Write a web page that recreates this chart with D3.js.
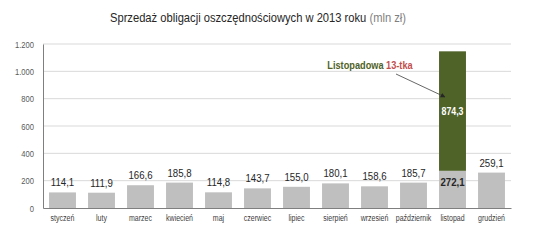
<!DOCTYPE html>
<html><head><meta charset="utf-8">
<script src="https://cdn.jsdelivr.net/npm/d3@7"></script>
<style>body{margin:0;background:#fff;} svg{display:block;font-family:"Liberation Sans",Arial,sans-serif;}</style>
</head><body>
<svg id="c" width="540" height="241"></svg>
<script>
const categories = ["styczeń","luty","marzec","kwiecień","maj","czerwiec","lipiec","sierpień","wrzesień","październik","listopad","grudzień"];
const baseValues = [114.1,111.9,166.6,185.8,114.8,143.7,155.0,180.1,158.6,185.7,272.1,259.1];
const extraValues = [0,0,0,0,0,0,0,0,0,0,874.3,0];
const yTicks = [0,200,400,600,800,1000,1200];

const svg = d3.select("#c");
const m = {l:43, r:29, t:44, b:33};
const W = 540, H = 241;
const x = d3.scaleBand().domain(categories).range([m.l, W - m.r]).paddingInner(0.31).paddingOuter(0.155);
const y = d3.scaleLinear().domain([0,1200]).range([H - m.b, m.t]);
const fmt = v => v.toFixed(1).replace(".", ",");
const fmtTick = v => v >= 1000 ? d3.format(",")(v).replace(",", ".") : String(v);
const SX = 0.84; // narrow-font emulation

// gridlines
svg.append("g").selectAll("line").data(yTicks.slice(1)).join("line")
  .attr("x1", m.l).attr("x2", W - m.r)
  .attr("y1", d => y(d)).attr("y2", d => y(d))
  .attr("stroke", "#d9d9d9").attr("stroke-width", 1);

// y axis
const ya = svg.append("g").attr("transform", `translate(${m.l},0)`)
  .call(d3.axisLeft(y).tickValues(yTicks).tickFormat(fmtTick).tickSize(0).tickPadding(9));
ya.select(".domain").attr("stroke", "#7f7f7f");
ya.selectAll("text").attr("fill", "#595959").attr("font-size", 9.5)
  .attr("x", -9 / 0.8).attr("transform", "scale(0.8,1)");

// bars
svg.append("g").selectAll("rect").data(categories).join("rect")
  .attr("x", d => x(d)).attr("width", x.bandwidth())
  .attr("y", (d,i) => y(baseValues[i])).attr("height", (d,i) => y(0) - y(baseValues[i]))
  .attr("fill", "#bfbfbf");
svg.append("g").selectAll("rect").data(categories.filter((d,i)=>extraValues[i]>0)).join("rect")
  .attr("x", d => x(d)).attr("width", x.bandwidth())
  .attr("y", d => { const i = categories.indexOf(d); return y(baseValues[i] + extraValues[i]); })
  .attr("height", d => { const i = categories.indexOf(d); return y(baseValues[i]) - y(baseValues[i] + extraValues[i]); })
  .attr("fill", "#4f6228");

// x axis
const xa = svg.append("g").attr("transform", `translate(0,${y(0)})`)
  .call(d3.axisBottom(x).tickSize(0).tickPadding(7));
xa.select(".domain").attr("stroke", "#7f7f7f");
xa.selectAll("text").attr("fill", "#404040").attr("font-size", 9).attr("transform", "scale(0.78,1)");

// value labels
svg.append("g").selectAll("text").data(categories).join("text")
  .attr("transform", (d,i) => `translate(${x(d) + x.bandwidth()/2},${extraValues[i] > 0 ? y(baseValues[i]) + 15 : y(baseValues[i]) - 6}) scale(${SX},1)`)
  .attr("text-anchor", "middle").attr("font-size", 11.5)
  .attr("font-weight", (d,i) => extraValues[i] > 0 ? "bold" : "normal")
  .attr("fill", "#262626")
  .text((d,i) => fmt(baseValues[i]));
svg.append("g").selectAll("text").data(categories.filter((d,i)=>extraValues[i]>0)).join("text")
  .attr("transform", d => { const i = categories.indexOf(d); return `translate(${x(d) + x.bandwidth()/2},${y(baseValues[i] + extraValues[i]/2) + 4}) scale(0.8,1)`; })
  .attr("text-anchor", "middle").attr("font-size", 11).attr("font-weight", "bold").attr("fill", "#fff")
  .text(d => fmt(extraValues[categories.indexOf(d)]));

// annotation
const ann = svg.append("text").attr("transform", "translate(370,69) scale(0.8,1)").attr("text-anchor", "middle").attr("font-size", 11.5).attr("font-weight", "bold");
ann.append("tspan").attr("fill", "#4f6228").text("Listopadowa ");
ann.append("tspan").attr("fill", "#c0504d").text("13-tka");
svg.append("defs").append("marker").attr("id","ah").attr("viewBox","0 0 10 10").attr("refX",9).attr("refY",5)
  .attr("markerWidth",6).attr("markerHeight",6).attr("orient","auto")
  .append("path").attr("d","M0,0L10,5L0,10z").attr("fill","#262626");
svg.append("line").attr("x1", 396).attr("y1", 74).attr("x2", 445).attr("y2", 97)
  .attr("stroke", "#404040").attr("stroke-width", 0.8).attr("marker-end", "url(#ah)");

// title
const t = svg.append("text").attr("transform", "translate(258,22) scale(0.86,1)").attr("text-anchor", "middle").attr("font-size", 13);
t.append("tspan").attr("fill", "#262626").text("Sprzedaż obligacji oszczędnościowych w 2013 roku ");
t.append("tspan").attr("fill", "#7f7f7f").text("(mln zł)");
</script>
</body></html>
